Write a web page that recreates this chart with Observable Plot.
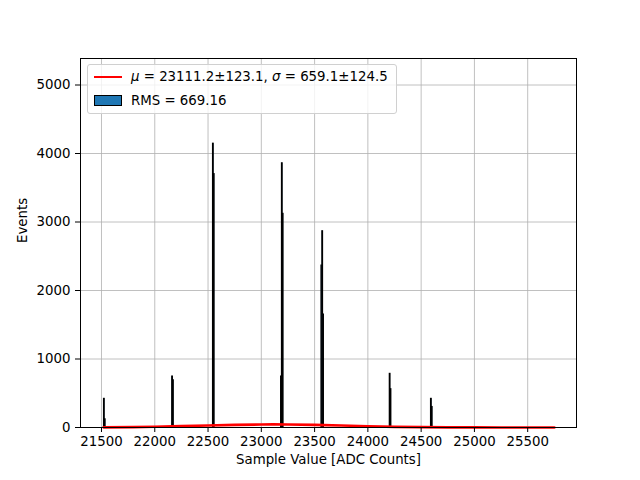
<!DOCTYPE html>
<html>
<head>
<meta charset="utf-8">
<script src="https://cdn.jsdelivr.net/npm/d3@7"></script>
<script src="https://cdn.jsdelivr.net/npm/@observablehq/plot@0.6"></script>
<style>
  body { margin: 0; background: #fff; }
  #wrap { position: relative; width: 640px; height: 480px; font-family: "DejaVu Sans", sans-serif; }
  #legend { position: absolute; left: 87px; top: 64px; width: 308px; height: 48px; border: 1px solid #d0d0d0; border-radius: 3px; background: rgba(255,255,255,0.8); font-size: 13.33px; color: #000; }
  .row { position: absolute; left: 0; height: 16px; line-height: 16px; white-space: nowrap; }
  .swline { position: absolute; left: 6px; width: 28px; height: 0; border-top: 2.67px solid #ff0000; }
  .swpatch { position: absolute; left: 6px; width: 26px; height: 9px; background: #1f77b4; border: 1px solid #000; }
  .lt { position: absolute; left: 43px; }
  i { font-style: italic; }
</style>
</head>
<body>
<div id="wrap">
  <div id="chart"></div>
  <div id="legend">
    <div class="row" style="top:4px;width:300px"><div class="swline" style="top:7px"></div><span class="lt"><i>μ</i> = 23111.2±123.1, <i>σ</i> = 659.1±124.5</span></div>
    <div class="row" style="top:28px;width:300px"><div class="swpatch" style="top:2px"></div><span class="lt">RMS = 669.16</span></div>
  </div>
</div>
<script>
// Histogram bins (ADC counts): lower edge, upper edge, counts
const binLo = [21523, 21531, 22163, 22171, 22546, 22554, 23185, 23193, 23201, 23564, 23572, 23580, 24205, 24213, 24592, 24600];
const binHi = [21531, 21539, 22171, 22179, 22554, 22562, 23193, 23201, 23209, 23572, 23580, 23588, 24213, 24221, 24600, 24608];
const binCounts = [419, 120, 745, 690, 4144, 3700, 745, 3858, 3120, 2365, 2866, 1650, 784, 560, 419, 300];

// Gaussian fit curve
const fitX = [21520, 21800, 22000, 22250, 22500, 22750, 23000, 23111, 23250, 23500, 23750, 24000, 24250, 24500, 24750, 25000, 25250, 25500, 25750];
const fitY = [3, 6, 11, 19, 29, 39, 44, 45, 44, 38, 29, 18, 10, 5, 2, 1, 0.3, 0.1, 0];

const xTicks = [21500, 22000, 22500, 23000, 23500, 24000, 24500, 25000, 25500];
const yTicks = [0, 1000, 2000, 3000, 4000, 5000];

const bins = binLo.map((lo, i) => ({lo, hi: binHi[i], n: binCounts[i]}));
const fit = fitX.map((x, i) => ({x, y: fitY[i]}));

const chart = Plot.plot({
  width: 640,
  height: 480,
  marginLeft: 80,
  marginRight: 64,
  marginTop: 58,
  marginBottom: 53,
  style: { fontFamily: "DejaVu Sans, sans-serif", fontSize: "13.33px", color: "#000", background: "#fff" },
  x: { domain: [21303, 25958], label: null },
  y: { domain: [0, 5387], label: null },
  marks: [
    Plot.gridX(xTicks, { stroke: "#b0b0b0", strokeOpacity: 1, strokeWidth: 0.8 }),
    Plot.gridY(yTicks, { stroke: "#b0b0b0", strokeOpacity: 1, strokeWidth: 0.8 }),
    Plot.rectY(bins, { x1: "lo", x2: "hi", y: "n", fill: "#1f77b4", stroke: "#000", strokeWidth: 1 }),
    Plot.line(fit, { x: "x", y: "y", stroke: "#ff0000", strokeWidth: 2.67, curve: "linear" }),
    Plot.axisX({ ticks: xTicks, tickSize: 5, tickPadding: 4, tickFormat: d => String(d), label: null, fontSize: 13.33 }),
    Plot.axisY({ ticks: yTicks, tickSize: 5, tickPadding: 5, tickFormat: d => String(d), label: null, fontSize: 13.33 }),
    Plot.frame({ stroke: "#000", strokeWidth: 1 }),
    Plot.text(["Sample Value [ADC Counts]"], { frameAnchor: "bottom", dy: 36, fontSize: 13.33 }),
    Plot.text(["Events"], { frameAnchor: "left", dx: -58, rotate: -90, fontSize: 13.33 })
  ]
});
document.getElementById("chart").appendChild(chart);
</script>
</body>
</html>
